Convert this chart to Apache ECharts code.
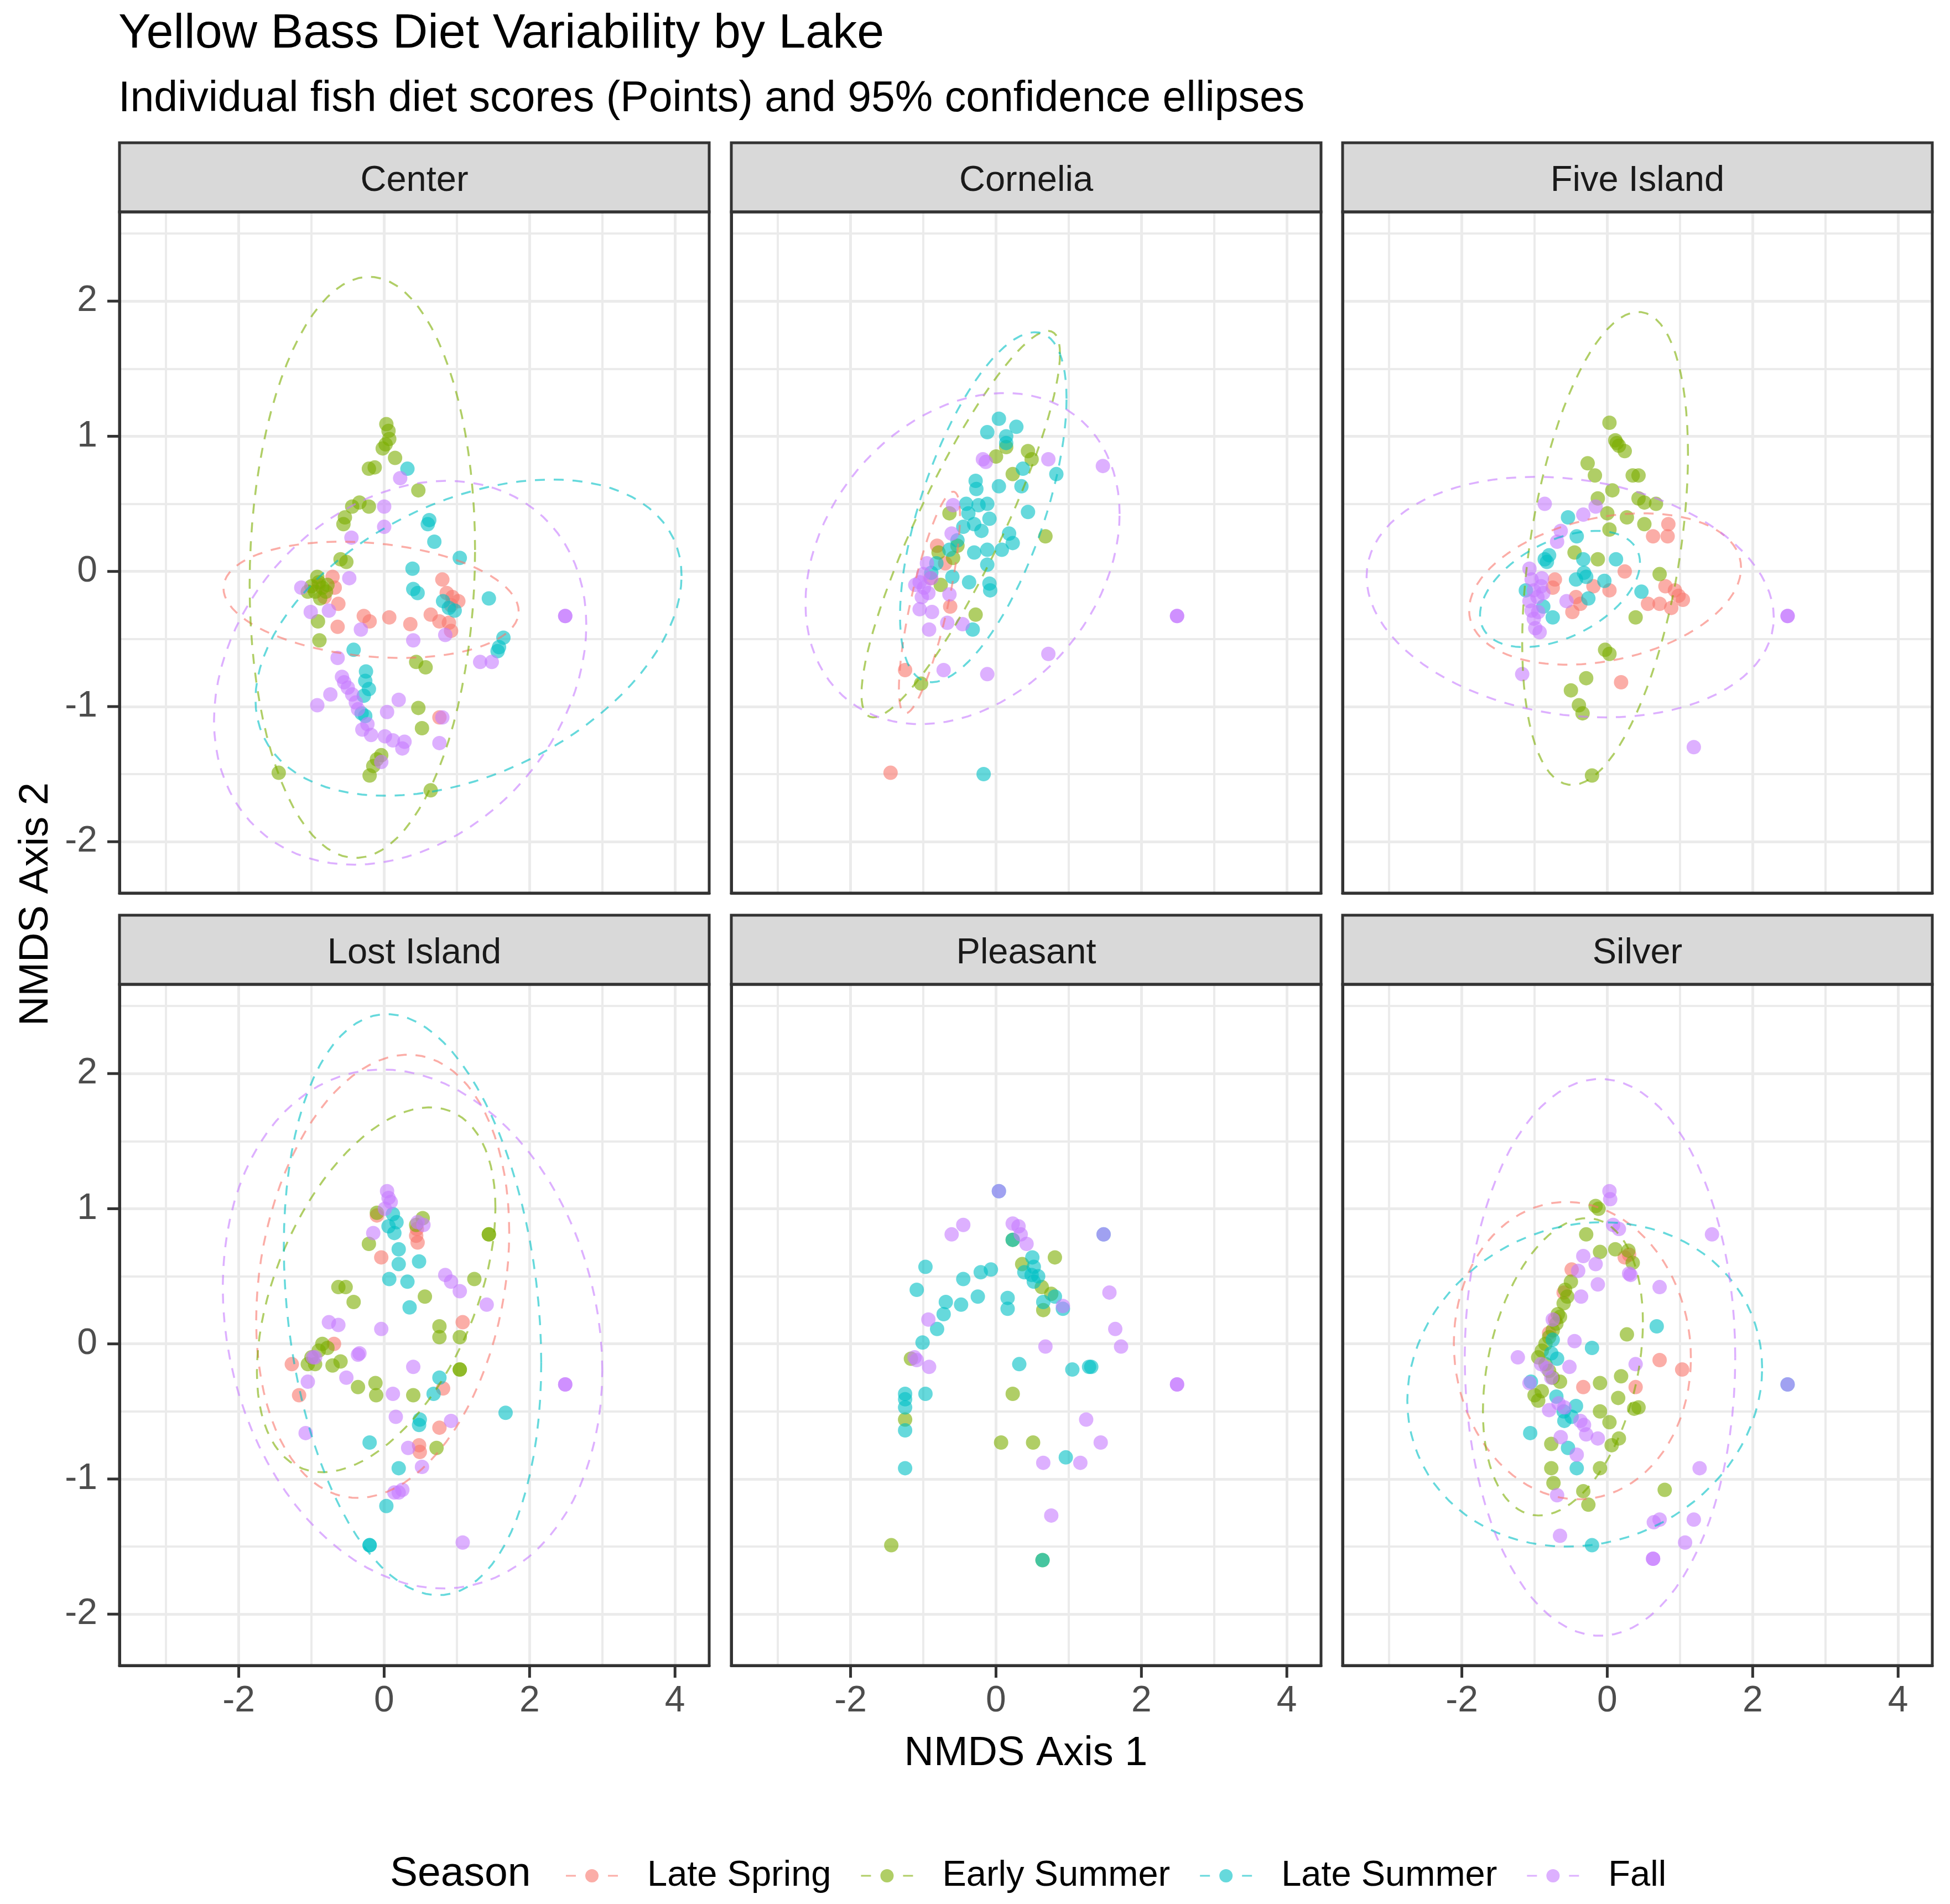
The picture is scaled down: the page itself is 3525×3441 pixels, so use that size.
<!DOCTYPE html>
<html>
<head>
<meta charset="utf-8">
<title>Yellow Bass Diet Variability by Lake</title>
<script src="https://cdn.jsdelivr.net/npm/echarts@6/dist/echarts.min.js"></script>
<style>
  html, body { margin: 0; padding: 0; background: #fff; }
  #chart { width: 3525px; height: 3441px; }
</style>
</head>
<body>
<div id="chart"></div>
<script>
// categories and tick labels
const seasons = ['Late Spring', 'Early Summer', 'Late Summer', 'Fall']
const lakes = ['Center', 'Cornelia', 'Five Island', 'Lost Island', 'Pleasant', 'Silver']
const xTicks = [-2, 0, 2, 4]
const yTicks = [-2, -1, 0, 1, 2]

// individual fish scores [NMDS1, NMDS2]
const centerLateSpring = [[-0.71,-0.04],[-0.68,-0.12],[-0.63,-0.24],[-0.82,-0.19],[-0.64,-0.41],[-0.28,-0.33],[-0.2,-0.37],[0.07,-0.34],[0.36,-0.39],[0.8,-0.06],[0.86,-0.16],[0.94,-0.19],[1.02,-0.22],[0.92,-0.25],[0.64,-0.32],[0.76,-0.37],[0.89,-0.38],[0.92,-0.44],[0.76,-1.08],[-0.9,-0.1]]
const centerEarlySummer = [[0.03,1.09],[0.06,1.04],[0.07,0.98],[0.02,0.94],[-0.02,0.91],[0.15,0.84],[-0.21,0.76],[-0.13,0.77],[0.47,0.6],[-0.34,0.51],[-0.44,0.48],[-0.21,0.48],[-0.54,0.4],[-0.56,0.35],[-0.6,0.09],[-0.52,0.07],[-1.0,-0.11],[-0.9,-0.08],[-0.85,-0.12],[-0.8,-0.15],[-0.95,-0.15],[-0.88,-0.2],[-0.78,-0.1],[-1.05,-0.15],[-0.92,-0.04],[-0.91,-0.37],[-0.89,-0.51],[0.44,-0.67],[0.57,-0.71],[0.47,-1.01],[0.52,-1.16],[-0.04,-1.36],[-0.1,-1.39],[-0.15,-1.44],[-0.2,-1.51],[-1.45,-1.49],[0.64,-1.62]]
const centerLateSummer = [[0.32,0.76],[0.6,0.35],[0.69,0.22],[1.04,0.1],[0.39,0.02],[0.4,-0.13],[0.46,-0.16],[0.81,-0.22],[0.89,-0.27],[0.97,-0.29],[1.44,-0.2],[1.64,-0.49],[1.58,-0.56],[1.56,-0.59],[-0.42,-0.58],[-0.25,-0.74],[-0.26,-0.81],[-0.21,-0.87],[-0.28,-0.92],[-0.31,-1.05],[-0.26,-1.07],[0.62,0.38]]
const centerFall = [[0.22,0.69],[0.0,0.48],[0.0,0.33],[-0.45,0.25],[-0.48,-0.05],[-1.14,-0.12],[-1.01,-0.3],[-0.76,-0.29],[-0.32,-0.43],[0.4,-0.51],[0.84,-0.47],[1.32,-0.67],[1.48,-0.67],[2.49,-0.33],[2.49,-0.33],[-0.64,-0.64],[-0.58,-0.78],[-0.5,-0.86],[-0.44,-0.91],[-0.39,-0.97],[-0.36,-1.02],[-0.74,-0.91],[-0.92,-0.99],[0.04,-1.04],[0.2,-0.95],[-0.23,-1.13],[-0.18,-1.21],[0.01,-1.22],[0.12,-1.25],[0.28,-1.26],[0.25,-1.31],[0.8,-1.08],[0.76,-1.27],[-0.04,-1.41],[-0.55,-0.82],[-0.3,-1.17]]

const corneliaLateSpring = [[-0.81,0.19],[-0.63,-0.26],[-1.25,-0.73],[-1.45,-1.49],[-0.7,0.06],[-0.9,-0.05]]
const corneliaEarlySummer = [[0.44,0.89],[0.49,0.83],[0.23,0.72],[0.68,0.26],[0.0,0.85],[-0.64,0.43],[-0.53,0.19],[-0.59,0.1],[-0.76,-0.1],[-0.28,-0.32],[-1.03,-0.83],[0.14,0.92],[-0.79,0.14]]
const corneliaLateSummer = [[0.04,1.13],[0.28,1.07],[-0.12,1.03],[0.14,1.0],[0.14,0.95],[0.37,0.76],[0.35,0.63],[0.83,0.72],[-0.28,0.67],[-0.27,0.61],[0.04,0.63],[-0.41,0.5],[-0.24,0.49],[-0.12,0.5],[-0.38,0.43],[-0.09,0.39],[-0.3,0.35],[0.44,0.44],[0.18,0.28],[0.23,0.21],[0.08,0.16],[-0.12,0.16],[-0.3,0.14],[-0.12,0.05],[-0.53,0.23],[-0.64,0.16],[-0.82,0.06],[-0.89,-0.01],[-0.6,-0.04],[-0.37,-0.08],[-0.09,-0.09],[-0.08,-0.14],[-0.32,-0.43],[-0.17,-1.5],[-0.2,0.3],[-0.45,0.33]]
const corneliaFall = [[-0.14,0.81],[-0.18,0.83],[0.72,0.83],[1.47,0.78],[-0.59,0.49],[-0.61,0.28],[-1.05,-0.08],[-0.99,-0.12],[-1.11,-0.1],[-0.93,-0.16],[-1.02,-0.19],[-0.89,-0.05],[-0.95,0.06],[-1.0,-0.02],[-0.64,-0.17],[-1.05,-0.28],[-0.88,-0.3],[-0.67,-0.38],[-0.46,-0.39],[-0.92,-0.43],[-0.72,-0.73],[-0.12,-0.76],[0.72,-0.61],[2.49,-0.33],[2.49,-0.33]]

const fiveLateSpring = [[0.84,0.35],[0.63,0.26],[0.83,0.26],[0.24,0.0],[-0.72,-0.06],[-0.75,-0.12],[0.8,-0.11],[0.93,-0.14],[1.04,-0.21],[0.88,-0.27],[0.72,-0.24],[0.56,-0.24],[-0.43,-0.19],[-0.48,-0.3],[-0.37,-0.24],[-0.19,-0.11],[0.03,-0.14],[0.19,-0.82],[0.98,-0.18]]
const fiveEarlySummer = [[0.03,1.1],[0.11,0.97],[0.16,0.93],[0.24,0.89],[0.13,0.95],[-0.27,0.8],[-0.17,0.71],[0.35,0.71],[0.43,0.71],[0.07,0.6],[-0.13,0.54],[0.43,0.54],[0.51,0.51],[0.67,0.5],[0.0,0.43],[0.27,0.4],[0.03,0.31],[0.51,0.35],[-0.45,0.14],[-0.13,0.09],[0.72,-0.02],[0.39,-0.34],[-0.03,-0.58],[0.03,-0.61],[-0.29,-0.79],[-0.5,-0.88],[-0.39,-0.99],[-0.34,-1.05],[-0.21,-1.51]]
const fiveLateSummer = [[-0.54,0.4],[-0.42,0.26],[-0.8,0.12],[-0.83,0.07],[-0.86,0.09],[-0.33,0.09],[-0.32,-0.01],[-0.43,-0.06],[-0.29,-0.04],[0.12,0.09],[-0.04,-0.07],[0.47,-0.15],[-0.26,-0.2],[-0.88,-0.26],[-0.75,-0.34],[-1.12,-0.14]]
const fiveFall = [[-0.86,0.5],[-0.33,0.42],[-0.16,0.48],[-0.64,0.3],[-0.69,0.22],[-1.07,0.02],[-1.04,-0.06],[-1.01,-0.14],[-0.96,-0.19],[-1.07,-0.22],[-1.04,-0.29],[-1.01,-0.35],[-0.99,-0.42],[-0.93,-0.45],[-0.91,-0.11],[-0.88,-0.16],[-0.56,-0.22],[2.48,-0.33],[2.48,-0.33],[-1.17,-0.76],[1.19,-1.3],[-0.95,-0.3],[-0.9,-0.05]]

const lostLateSpring = [[-0.04,0.64],[0.44,0.8],[0.46,0.75],[1.08,0.16],[-0.69,0.0],[-1.27,-0.15],[-1.17,-0.38],[0.81,-0.33],[0.76,-0.62],[0.48,-0.75],[0.49,-0.8],[-0.1,0.95],[0.45,0.85]]
const lostEarlySummer = [[0.53,0.93],[0.44,0.88],[1.44,0.81],[1.44,0.81],[-0.21,0.74],[-0.63,0.42],[-0.53,0.42],[-0.42,0.31],[1.24,0.48],[0.56,0.35],[0.76,0.13],[0.76,0.05],[1.04,0.05],[-1.0,-0.1],[-0.9,-0.05],[-0.95,-0.15],[-1.05,-0.15],[-0.85,0.0],[-0.78,-0.03],[-0.71,-0.16],[-0.6,-0.13],[1.04,-0.19],[1.04,-0.19],[-0.36,-0.32],[-0.12,-0.29],[-0.11,-0.38],[0.4,-0.38],[0.72,-0.77],[-0.1,0.97]]
const lostLateSummer = [[0.12,0.96],[0.17,0.9],[0.06,0.87],[0.14,0.82],[0.2,0.7],[0.2,0.59],[0.48,0.61],[0.07,0.48],[0.32,0.46],[0.35,0.27],[0.76,-0.25],[0.68,-0.37],[0.49,-0.56],[0.48,-0.6],[1.67,-0.51],[-0.2,-0.73],[0.2,-0.92],[0.03,-1.2],[-0.2,-1.49],[-0.2,-1.49]]
const lostFall = [[0.04,1.13],[0.06,1.08],[0.09,1.05],[0.01,1.0],[0.46,0.9],[0.54,0.88],[-0.15,0.82],[0.84,0.51],[0.92,0.46],[1.04,0.39],[1.41,0.29],[-0.76,0.16],[-0.63,0.14],[-0.04,0.11],[-0.36,-0.08],[-0.34,-0.07],[-0.98,-0.1],[-1.05,-0.28],[-0.52,-0.25],[0.4,-0.17],[0.12,-0.37],[0.16,-0.54],[0.92,-0.57],[-1.08,-0.66],[0.33,-0.77],[0.52,-0.91],[0.2,-1.1],[0.25,-1.08],[0.14,-1.1],[1.08,-1.47],[2.49,-0.3],[2.49,-0.3],[-0.95,-0.1]]

const pleasantLateSpring = []
const pleasantEarlySummer = [[-1.44,-1.49],[0.64,-1.6],[0.81,0.64],[0.36,0.59],[0.63,0.42],[0.76,0.37],[0.65,0.25],[-1.17,-0.11],[-1.25,-0.56],[0.23,-0.37],[0.07,-0.73],[0.51,-0.73],[0.23,0.77]]
const pleasantLateSummer = [[0.04,1.13],[1.48,0.81],[-0.97,0.57],[-1.09,0.4],[-0.45,0.48],[-0.21,0.53],[-0.07,0.55],[-0.69,0.31],[-0.72,0.22],[-0.81,0.11],[-0.48,0.29],[-0.25,0.35],[0.16,0.34],[0.16,0.26],[-1.01,0.01],[0.23,0.77],[0.5,0.64],[0.52,0.57],[0.39,0.53],[0.49,0.51],[0.58,0.5],[0.52,0.46],[0.65,0.31],[0.81,0.35],[0.92,0.26],[0.32,-0.15],[1.05,-0.19],[1.28,-0.17],[1.31,-0.17],[-0.97,-0.37],[-1.25,-0.37],[-1.25,-0.41],[-1.25,-0.47],[-1.25,-0.64],[-1.25,-0.92],[0.96,-0.84],[0.64,-1.6]]
const pleasantFall = [[0.04,1.13],[1.48,0.81],[-0.45,0.88],[-0.61,0.81],[0.23,0.89],[0.31,0.87],[0.34,0.81],[0.42,0.74],[1.56,0.38],[1.64,0.11],[1.72,-0.02],[-0.93,0.18],[-1.09,-0.12],[-0.92,-0.17],[0.68,-0.02],[1.24,-0.56],[1.44,-0.73],[0.65,-0.88],[1.16,-0.88],[0.76,-1.27],[2.49,-0.3],[2.49,-0.3],[0.92,0.28],[-1.12,-0.1]]

const silverLateSpring = [[-0.49,0.55],[0.24,0.64],[-0.72,0.18],[-0.8,0.08],[0.72,-0.12],[1.03,-0.19],[-0.33,-0.32],[0.39,-0.32],[-0.6,0.38],[0.3,0.66]]
const silverEarlySummer = [[-0.16,1.02],[-0.12,1.0],[-0.29,0.81],[-0.1,0.68],[0.11,0.7],[0.29,0.69],[0.35,0.6],[-0.5,0.46],[-0.55,0.35],[-0.6,0.3],[-0.65,0.2],[-0.7,0.15],[-0.75,0.1],[-0.8,0.05],[-0.85,0.0],[-0.9,-0.05],[-0.95,-0.1],[-0.85,-0.15],[-0.8,-0.2],[-0.75,-0.25],[-0.9,-0.35],[-0.95,-0.42],[-1.0,-0.38],[-0.65,-0.28],[0.27,0.07],[0.19,-0.24],[-0.1,-0.29],[0.15,-0.4],[-0.1,-0.5],[0.03,-0.58],[0.37,-0.48],[0.43,-0.47],[0.16,-0.7],[0.06,-0.75],[-0.77,-0.74],[-0.77,-0.92],[-0.74,-1.03],[-0.1,-0.92],[-0.33,-1.09],[-0.26,-1.19],[0.79,-1.08],[-0.58,0.4],[-0.68,0.22]]
const silverLateSummer = [[0.68,0.13],[-0.21,-0.03],[-0.75,0.03],[-0.77,-0.07],[-0.69,-0.11],[-1.06,-0.66],[-0.43,-0.46],[-0.49,-0.54],[-0.54,-0.77],[-0.42,-0.92],[-0.7,-0.39],[-0.21,-1.49],[-0.59,-0.57],[2.48,-0.3],[-1.05,-0.28],[-0.6,-0.5]]
const silverFall = [[0.03,1.13],[0.04,1.07],[0.08,0.88],[0.16,0.85],[1.44,0.81],[-0.33,0.65],[-0.16,0.59],[-0.4,0.54],[0.32,0.51],[-0.13,0.44],[0.72,0.42],[-0.36,0.35],[-0.75,0.18],[-0.45,0.02],[-1.23,-0.1],[-0.52,-0.17],[0.39,-0.15],[-0.83,-0.18],[-0.77,-0.25],[-0.91,-0.15],[-1.07,-0.29],[-0.8,-0.49],[-0.67,-0.44],[-0.59,-0.47],[-0.37,-0.57],[-0.32,-0.6],[-0.29,-0.67],[-0.13,-0.7],[-0.64,-0.69],[-0.42,-0.82],[-0.69,-1.12],[1.27,-0.92],[0.72,-1.3],[0.64,-1.32],[1.19,-1.3],[-0.65,-1.42],[1.07,-1.47],[0.63,-1.59],[0.63,-1.59],[2.48,-0.3],[0.3,0.52]]

// 95% ellipses per season: [centre x, centre y, half width, half height, tilt (-1..1)], null = not drawn
const centerEllipses = [[-0.18,-0.21,2.03,0.43,-0.2],[-0.3,0.03,1.55,2.15,0.06],[1.16,-0.49,2.93,1.17,0.39],[0.22,-0.75,2.56,1.42,0.25]]
const corneliaEllipses = [[-0.915,-0.23,0.42,0.82,0.78],[-0.485,0.35,1.365,1.43,0.88],[-0.175,0.475,1.145,1.295,0.62],[-0.46,0.095,2.16,1.225,0.27]]
const fiveEllipses = [[-0.03,-0.13,1.87,0.56,0.28],[-0.03,0.17,1.14,1.75,0.4],[-0.65,-0.13,1.1,0.43,0.45],[-0.51,-0.19,2.8,0.89,-0.17]]
const lostEllipses = [[-0.02,0.5,1.74,1.64,0.2],[-0.11,0.4,1.64,1.35,0.45],[0.39,0.29,1.77,2.15,-0.2],[0.39,0.11,2.61,1.92,-0.16]]
const pleasantEllipses = [null, null, null, null]
const silverEllipses = [[-0.48,-0.05,1.63,1.1,-0.05],[-0.61,-0.17,1.1,1.1,0.3],[-0.31,-0.3,2.44,1.2,0.1],[-0.1,-0.1,1.86,2.06,0.0]]

const pointsByLake = [
  [centerLateSpring, centerEarlySummer, centerLateSummer, centerFall],
  [corneliaLateSpring, corneliaEarlySummer, corneliaLateSummer, corneliaFall],
  [fiveLateSpring, fiveEarlySummer, fiveLateSummer, fiveFall],
  [lostLateSpring, lostEarlySummer, lostLateSummer, lostFall],
  [pleasantLateSpring, pleasantEarlySummer, pleasantLateSummer, pleasantFall],
  [silverLateSpring, silverEarlySummer, silverLateSummer, silverFall]
]
const ellipsesByLake = [centerEllipses, corneliaEllipses, fiveEllipses, lostEllipses, pleasantEllipses, silverEllipses]

// look
const seasonColors = ['#F8766D', '#7CAE00', '#00BFC4', '#C77CFF']
const font = '"Liberation Sans", Arial, Helvetica, sans-serif'
const colLeft = [216, 1322, 2427]
const rowTop = [383, 1779]
const panelW = 1066
const panelH = 1231
const stripH = 125
const tickLen = 22
const xRange = [-3.64, 4.47]
const yRange = [-2.38, 2.66]

// outline of an ellipse from its centre, half extents and tilt
function ellipseOutline(p) {
  const [cx, cy, hx, hy, r] = p
  const s = Math.sqrt(1 - r * r)
  const pts = []
  for (let k = 0; k <= 90; k++) {
    const t = (2 * Math.PI * k) / 90
    pts.push([cx + hx * Math.cos(t), cy + hy * (r * Math.cos(t) + s * Math.sin(t))])
  }
  return pts
}

const labelText = { fontSize: 66, color: '#4D4D4D', fontFamily: font }

const grids = []
const xAxes = []
const yAxes = []
const scatterSeries = []
const ellipseSeries = []
const graphics = []

lakes.forEach((lake, i) => {
  const col = i % 3
  const row = Math.floor(i / 3)
  grids.push({
    left: colLeft[col], top: rowTop[row], width: panelW, height: panelH,
    show: false, containLabel: false
  })
  // tick mark is drawn as a small box inside the label, so it sits right on the panel edge
  xAxes.push({
    gridIndex: i, type: 'value', position: 'bottom', min: xRange[0], max: xRange[1],
    minInterval: 2, maxInterval: 2,
    axisLine: { show: true, onZero: false, lineStyle: { color: '#333333', width: 5 } },
    axisTick: { show: false },
    axisLabel: {
      show: row === 1, customValues: xTicks, margin: 0,
      formatter: v => '{t|}\n{v|' + v + '}',
      rich: {
        t: { width: 5, height: tickLen, backgroundColor: '#333333' },
        v: Object.assign({ lineHeight: 86 }, labelText)
      }
    },
    splitLine: { show: true, showMinLine: false, showMaxLine: false, lineStyle: { color: '#EBEBEB', width: 5 } },
    minorTick: { show: false, splitNumber: 2 },
    minorSplitLine: { show: true, lineStyle: { color: '#EBEBEB', width: 4 } }
  })
  yAxes.push({
    gridIndex: i, type: 'value', position: 'left', min: yRange[0], max: yRange[1],
    minInterval: 1, maxInterval: 1,
    axisLine: { show: true, onZero: false, lineStyle: { color: '#333333', width: 5 } },
    axisTick: { show: false },
    axisLabel: {
      show: col === 0, customValues: yTicks, margin: 0,
      formatter: v => '{v|' + v + '}{g|}{t|}',
      rich: {
        v: labelText,
        g: { width: 18 },
        t: { width: tickLen, height: 5, backgroundColor: '#333333' }
      }
    },
    splitLine: { show: true, showMinLine: false, showMaxLine: false, lineStyle: { color: '#EBEBEB', width: 5 } },
    minorTick: { show: false, splitNumber: 2 },
    minorSplitLine: { show: true, lineStyle: { color: '#EBEBEB', width: 4 } }
  })

  seasons.forEach((season, s) => {
    scatterSeries.push({
      type: 'scatter', name: season, xAxisIndex: i, yAxisIndex: i,
      data: pointsByLake[i][s], symbol: 'circle', symbolSize: 26,
      itemStyle: { color: seasonColors[s], opacity: 0.6 },
      silent: true, z: 3
    })
    const e = ellipsesByLake[i][s]
    if (e) {
      ellipseSeries.push({
        type: 'line', name: season, xAxisIndex: i, yAxisIndex: i,
        data: ellipseOutline(e), showSymbol: false, symbol: 'none', smooth: false,
        lineStyle: { color: seasonColors[s], width: 3.5, type: [18, 16], opacity: 0.6 },
        itemStyle: { color: seasonColors[s] },
        silent: true, clip: true, z: 4
      })
    }
  })

  // facet strip and panel frame
  const stripTop = rowTop[row] - stripH
  graphics.push({
    type: 'rect', z: 100,
    shape: { x: colLeft[col], y: stripTop, width: panelW, height: stripH },
    style: { fill: '#D9D9D9', stroke: '#333333', lineWidth: 5 }
  })
  graphics.push({
    type: 'text', z: 101,
    style: {
      x: colLeft[col] + panelW / 2, y: stripTop + stripH / 2 + 7, text: lake,
      font: '65px ' + font, fill: '#1A1A1A', align: 'center', verticalAlign: 'middle'
    }
  })
  graphics.push({
    type: 'rect', z: 100,
    shape: { x: colLeft[col], y: rowTop[row], width: panelW, height: panelH },
    style: { fill: null, stroke: '#333333', lineWidth: 5 }
  })
})

// titles and axis titles
graphics.push(
  { type: 'text', z: 101, style: { x: 214, y: 62, text: 'Yellow Bass Diet Variability by Lake', font: '88px ' + font, fill: '#000000', align: 'left', verticalAlign: 'middle' } },
  { type: 'text', z: 101, style: { x: 214, y: 180, text: 'Individual fish diet scores (Points) and 95% confidence ellipses', font: '77px ' + font, fill: '#000000', align: 'left', verticalAlign: 'middle' } },
  { type: 'text', z: 101, style: { x: (colLeft[0] + colLeft[2] + panelW) / 2, y: 3170, text: 'NMDS Axis 1', font: '74px ' + font, fill: '#000000', align: 'center', verticalAlign: 'middle' } },
  { type: 'text', z: 101, rotation: Math.PI / 2, x: 66, y: (rowTop[0] - stripH + rowTop[1] + panelH) / 2, style: { x: 0, y: 0, text: 'NMDS Axis 2', font: '74px ' + font, fill: '#000000', align: 'center', verticalAlign: 'middle' } },
  { type: 'text', z: 101, style: { x: 705, y: 3387, text: 'Season', font: '75px ' + font, fill: '#000000', align: 'left', verticalAlign: 'middle' } }
)

const keyIcon = 'path://M0,10.5h18v3h-18z M35,12a12,12,0,1,0,24,0a12,12,0,1,0,-24,0z M76,10.5h18v3h-18z'

const option = {
  animation: false,
  backgroundColor: '#ffffff',
  grid: grids,
  xAxis: xAxes,
  yAxis: yAxes,
  legend: {
    data: seasons,
    left: 1018, top: 3345,
    orient: 'horizontal',
    icon: keyIcon,
    itemWidth: 94, itemHeight: 24, itemGap: 54,
    selectedMode: false,
    textStyle: { fontSize: 65, color: '#000000', fontFamily: font, lineHeight: 80, padding: [0, 0, 0, 48] }
  },
  graphic: { elements: graphics },
  series: scatterSeries.concat(ellipseSeries)
}

const chart = echarts.init(document.getElementById('chart'))
chart.setOption(option)
window.addEventListener('resize', () => chart.resize())
</script>
</body>
</html>
